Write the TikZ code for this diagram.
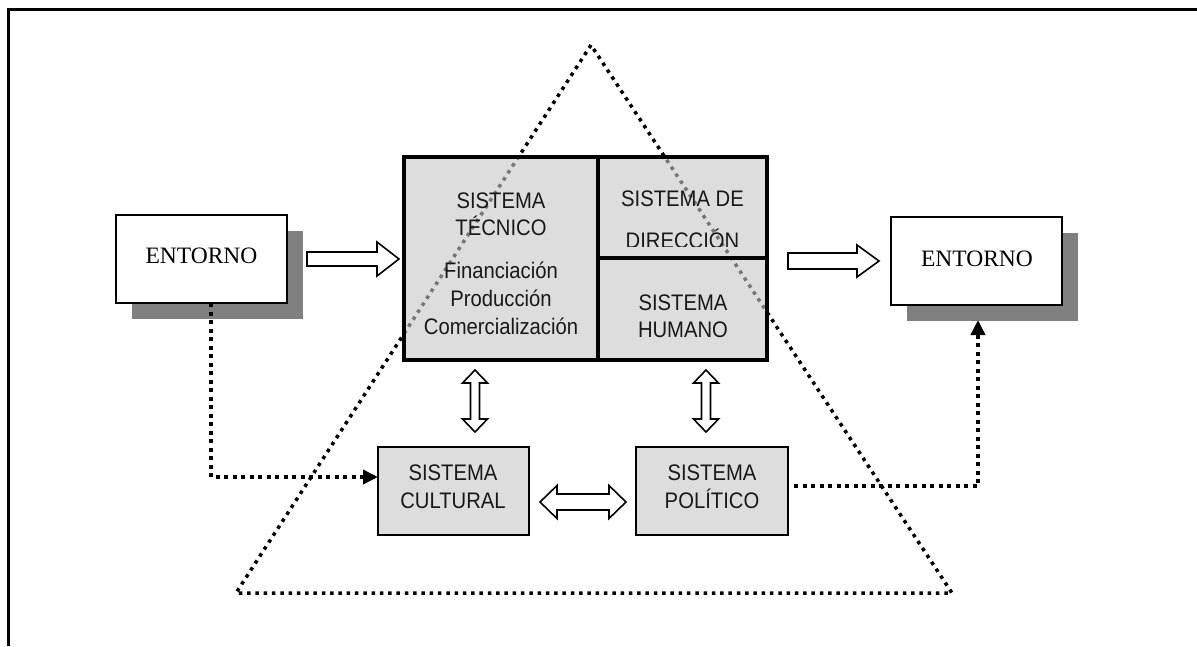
\documentclass[tikz,border=0pt]{standalone}
\usepackage{fontspec}
\setmainfont{Liberation Serif}
\newfontfamily\sysf[FakeStretch=0.9]{Liberation Sans}
\usetikzlibrary{shadows,arrows.meta}
\begin{document}
\begin{tikzpicture}[x=1pt,y=-1pt,
  frameline/.style={line width=3pt},
  entbox/.style={draw,line width=2pt,fill=white,minimum width=171pt,minimum height=88pt,inner sep=0pt,
    drop shadow={shadow xshift=16pt,shadow yshift=-16pt,fill=black!50,opacity=1}},
  enttxt/.style={font=\fontsize{23.5}{26}\selectfont,anchor=base,inner sep=0pt},
  mainbox/.style={draw,line width=3.4pt,fill={rgb,1:red,0.78;green,0.78;blue,0.78},fill opacity=0.6,inner sep=0pt},
  subbox/.style={draw,line width=2.2pt,fill={rgb,255:red,221;green,221;blue,221},minimum width=151pt,minimum height=88pt,inner sep=0pt},
  systxt/.style={font=\sysf\fontsize{22.5}{26}\selectfont,anchor=base,inner sep=0pt,text=black!90},
  dotline/.style={line width=3.5pt,dash pattern=on 4pt off 4.5pt},
  tridot/.style={line width=3.5pt,dash pattern=on 3.5pt off 4.8pt},
  blk/.style={draw,fill=white,line width=1.6pt,line join=miter},
  tip/.style={-{Triangle[length=15pt,width=14pt]}}
]
\useasboundingbox (0,0) rectangle (1197,646);
% frame
\draw[frameline] (8,646) -- (8,9) -- (1197,9);
% triangle
\coordinate (tA) at (591,45);
\coordinate (tB) at (236,593);
\coordinate (tC) at (952,593);
\draw[tridot] (tA) -- (tB) -- (tC) -- cycle;
% entorno boxes
\node[entbox] (ent1) at (201.5,259) {};
\node[enttxt] (ent1t) at (201.5,263.3) {ENTORNO};
\node[entbox] (ent2) at (976.5,261) {};
\node[enttxt] (ent2t) at (977,266) {ENTORNO};
% main system boxes
\node[mainbox,minimum width=194pt,minimum height=203pt] (tec) at (501,258.5) {};
\node[mainbox,minimum width=169pt,minimum height=101pt] (dir) at (682.5,207.5) {};
\node[mainbox,minimum width=169pt,minimum height=102pt] (hum) at (682.5,309) {};
\node[systxt] (tec1) at (501,208.3) {SISTEMA};
\node[systxt] (tec2) at (501,235) {TÉCNICO};
\node[systxt] (tec3) at (501,278.3) {Financiación};
\node[systxt] (tec4) at (501,306.7) {Producción};
\node[systxt] (tec5) at (501,334) {Comercialización};
\node[systxt] (dir1) at (682.5,206.7) {SISTEMA DE};
\begin{scope}
\clip (598,160) rectangle (767,246);
\node[systxt] (dir2) at (682.5,248.5) {DIRECCIÓN};
\end{scope}
\node[systxt] (hum1) at (683,310.7) {SISTEMA};
\node[systxt] (hum2) at (683,337.3) {HUMANO};
% cultural & politico
\node[subbox] (cul) at (453.5,491) {};
\node[systxt] (cul1) at (453,480) {SISTEMA};
\node[systxt] (cul2) at (453,508.3) {CULTURAL};
\node[subbox,minimum width=152pt] (pol) at (712,491) {};
\node[systxt] (pol1) at (712,480) {SISTEMA};
\node[systxt] (pol2) at (712,508.3) {POLÍTICO};
% block arrows
\draw[blk] (307,252) -- (377,252) -- (377,242) -- (399,259) -- (377,276) -- (377,266) -- (307,266) -- cycle;
\draw[blk] (788,253) -- (857,253) -- (857,245) -- (879,261) -- (857,277) -- (857,269) -- (788,269) -- cycle;
\draw[blk] (475,370) -- (487.5,383) -- (479.5,383) -- (479.5,419) -- (487.5,419) -- (475,432) -- (462.5,419) -- (470.5,419) -- (470.5,383) -- (462.5,383) -- cycle;
\draw[blk] (706,370) -- (718.5,383) -- (710.5,383) -- (710.5,419) -- (718.5,419) -- (706,432) -- (693.5,419) -- (701.5,419) -- (701.5,383) -- (693.5,383) -- cycle;
\draw[blk] (540,502) -- (557,485.5) -- (557,494) -- (609,494) -- (609,485.5) -- (626,502) -- (609,518.5) -- (609,510) -- (557,510) -- (557,518.5) -- cycle;
% dotted connectors
\coordinate (c1s) at (211,303);
\coordinate (c1e) at (378,477);
\draw[dotline,tip] (c1s) |- (c1e);
\coordinate (c2s) at (794,486);
\coordinate (c2e) at (978,320);
\draw[dotline,tip] (c2s) -| (c2e);
\end{tikzpicture}
\end{document}
